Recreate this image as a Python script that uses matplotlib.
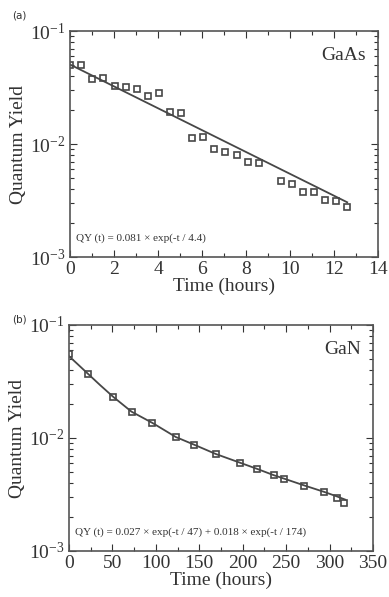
import numpy as np
import matplotlib
matplotlib.use("Agg")
import matplotlib.pyplot as plt
from matplotlib.ticker import MultipleLocator, LogLocator, NullFormatter

plt.rcParams['font.family'] = ['Liberation Serif', 'DejaVu Serif']
plt.rcParams['mathtext.fontset'] = 'stix'

# GaAs data
gaas_t = [0, 0.5, 1.0, 1.5, 2.05, 2.55, 3.05, 3.55, 4.05, 4.55, 5.05, 5.55, 6.05,
          6.55, 7.05, 7.6, 8.1, 8.6, 9.6, 10.1, 10.6, 11.1, 11.6, 12.1, 12.6]
gaas_qy = [0.0497, 0.0497, 0.0376, 0.0386, 0.0326, 0.0319, 0.0305, 0.0264, 0.0285,
           0.0191, 0.0189, 0.0114, 0.01145, 0.00903, 0.00849, 0.0080, 0.00689,
           0.00679, 0.00474, 0.00443, 0.00373, 0.00373, 0.00321, 0.00313, 0.00275]
gaas_fit_t = [0, 12.6]
gaas_fit_qy = [0.0505, 0.00305]

# GaN data
gan_t = [0, 22, 51, 72, 96, 123, 144, 169, 197, 216, 236, 248, 271, 294, 308, 317]
gan_qy = [0.0551, 0.0371, 0.0231, 0.0171, 0.0136, 0.0102, 0.00873, 0.00722,
          0.00604, 0.00535, 0.00468, 0.00434, 0.00378, 0.00331, 0.00296, 0.00266]
gan_fit_t = [0, 10, 22, 36, 51, 72, 96, 123, 144, 169, 197, 216, 236, 248, 271, 294, 308, 318]
gan_fit_qy = [0.0530, 0.0450, 0.0369, 0.0293, 0.0231, 0.0171, 0.0136, 0.0102, 0.00873,
              0.00722, 0.00604, 0.00535, 0.00468, 0.00436, 0.00380, 0.00333, 0.00305,
              0.00285]

W, H = 389, 597
fig = plt.figure(figsize=(W / 100, H / 100), dpi=100)

col = '#474747'
txt = '#333333'


def setup(ax, xmax, major, minor):
    ax.set_yscale('log')
    ax.set_ylim(1e-3, 1e-1)
    ax.set_xlim(0, xmax)
    ax.xaxis.set_major_locator(MultipleLocator(major))
    ax.xaxis.set_minor_locator(MultipleLocator(minor))
    ax.yaxis.set_major_locator(LogLocator(base=10, numticks=5))
    ax.yaxis.set_minor_locator(LogLocator(base=10, subs=np.arange(2, 10), numticks=20))
    ax.yaxis.set_minor_formatter(NullFormatter())
    ax.tick_params(which='both', direction='in', top=True, right=True, colors='#333333',
                   labelsize=14, labelcolor=txt, pad=3)
    ax.tick_params(which='major', length=5, width=0.8)
    ax.tick_params(which='minor', length=3, width=0.8)
    for s in ax.spines.values():
        s.set_color('#555555')
        s.set_linewidth(1.2)
    ax.set_ylabel('Quantum Yield', fontsize=14, color=txt, labelpad=2)


# (a) GaAs
ax1 = fig.add_axes([70 / W, 1 - 257 / H, 308 / W, 226 / H])
setup(ax1, 14, 2, 1)
ax1.plot(gaas_fit_t, gaas_fit_qy, color=col, lw=1.3)
ax1.plot(gaas_t, gaas_qy, 's', ms=5, mfc='none', mec=col, mew=1.2)
ax1.set_xlabel('Time (hours)', fontsize=14, color=txt, labelpad=0)
ax1.text(0.96, 0.93, 'GaAs', transform=ax1.transAxes, ha='right', va='top',
         fontsize=14, color=txt)
ax1.text(0.02, 0.06, 'QY (t) = 0.081 × exp(-t / 4.4)', transform=ax1.transAxes,
         ha='left', va='bottom', fontsize=8, color=txt)
fig.text(12 / W, 1 - 16 / H, '(a)', fontsize=7.5, family='DejaVu Sans', color=txt,
         va='center')

# (b) GaN
ax2 = fig.add_axes([69 / W, 1 - 551 / H, 304 / W, 226 / H])
setup(ax2, 350, 50, 25)
ax2.plot(gan_fit_t, gan_fit_qy, color=col, lw=1.3)
ax2.plot(gan_t, gan_qy, 's', ms=5, mfc='none', mec=col, mew=1.2)
ax2.set_xlabel('Time (hours)', fontsize=14, color=txt, labelpad=0)
ax2.text(0.96, 0.93, 'GaN', transform=ax2.transAxes, ha='right', va='top',
         fontsize=14, color=txt)
ax2.text(0.02, 0.06, 'QY (t) = 0.027 × exp(-t / 47) + 0.018 × exp(-t / 174)',
         transform=ax2.transAxes, ha='left', va='bottom', fontsize=8, color=txt)
fig.text(12 / W, 1 - 319 / H, '(b)', fontsize=7.5, family='DejaVu Sans', color=txt,
         va='center')

fig.savefig('out.png', dpi=100)
